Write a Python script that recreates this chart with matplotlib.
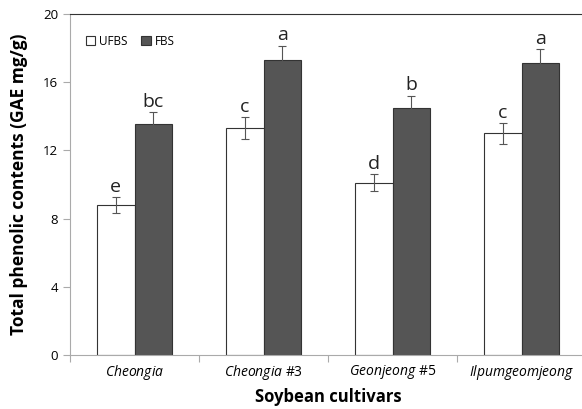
import matplotlib.pyplot as plt
import numpy as np

plt.rcParams['font.family'] = ['Open Sans', 'DejaVu Sans']
plt.rcParams['mathtext.fontset'] = 'custom'
plt.rcParams['mathtext.it'] = 'Open Sans:italic'
plt.rcParams['mathtext.rm'] = 'Open Sans'

cultivars = ['$\\it{Cheongia}$', '$\\it{Cheongia}$ #3', '$\\it{Geonjeong}$ #5', '$\\it{Ilpumgeomjeong}$']
ufbs = [8.8, 13.3, 10.1, 13.0]
ufbs_err = [0.45, 0.65, 0.5, 0.6]
ufbs_letters = ['e', 'c', 'd', 'c']
fbs = [13.55, 17.3, 14.5, 17.1]
fbs_err = [0.7, 0.85, 0.7, 0.85]
fbs_letters = ['bc', 'a', 'b', 'a']

fig = plt.figure(figsize=(5.82, 4.09), dpi=100)
ax = fig.add_axes([70 / 582, 54 / 409, 516 / 582, 341 / 409])

x = np.arange(len(cultivars))
w = 0.29
ax.bar(x - w / 2, ufbs, w, color='white', edgecolor='#333333', linewidth=0.8, label='UFBS')
ax.bar(x + w / 2, fbs, w, color='#555555', edgecolor='#333333', linewidth=0.8, label='FBS')
ax.errorbar(x - w / 2, ufbs, yerr=ufbs_err, fmt='none', ecolor='#555555', elinewidth=0.8, capsize=3, capthick=0.8)
ax.errorbar(x + w / 2, fbs, yerr=fbs_err, fmt='none', ecolor='#555555', elinewidth=0.8, capsize=3, capthick=0.8)

for i in range(len(cultivars)):
    ax.annotate(ufbs_letters[i], (x[i] - w / 2, ufbs[i] + ufbs_err[i]), xytext=(0, 1),
                textcoords='offset points', ha='center', va='bottom', fontsize=14, color='#222222')
    ax.annotate(fbs_letters[i], (x[i] + w / 2, fbs[i] + fbs_err[i]), xytext=(0, 1),
                textcoords='offset points', ha='center', va='bottom', fontsize=14, color='#222222')

ax.set_xlim(-0.5, len(cultivars) - 0.5)
ax.set_ylim(0, 20)
ax.set_yticks([0, 4, 8, 12, 16, 20])
ax.set_xticks(np.arange(len(cultivars) + 1) - 0.5)
ax.set_xticklabels([])
ax.set_xticks(x, minor=True)
ax.set_xticklabels(cultivars, minor=True, fontsize=10)
ax.tick_params(axis='x', which='minor', length=0, pad=6)
ax.tick_params(axis='x', which='major', length=5, color='#aaaaaa')
ax.tick_params(axis='y', length=5, color='#aaaaaa', labelsize=9.5)

for s in ['left', 'bottom']:
    ax.spines[s].set_color('#aaaaaa')
ax.spines['top'].set_color('#333333')
ax.spines['right'].set_visible(False)

ax.set_xlabel('Soybean cultivars', fontsize=12, fontweight='bold', labelpad=4)
ax.set_ylabel('Total phenolic contents (GAE mg/g)', fontsize=12.5, fontweight='bold', labelpad=11)

ax.legend(loc='upper left', bbox_to_anchor=(0.01, 0.97), ncol=2, frameon=False, fontsize=8.5,
          handlelength=0.8, handleheight=0.8, handletextpad=0.3, columnspacing=1.2)

fig.savefig('out.png', dpi=100)
